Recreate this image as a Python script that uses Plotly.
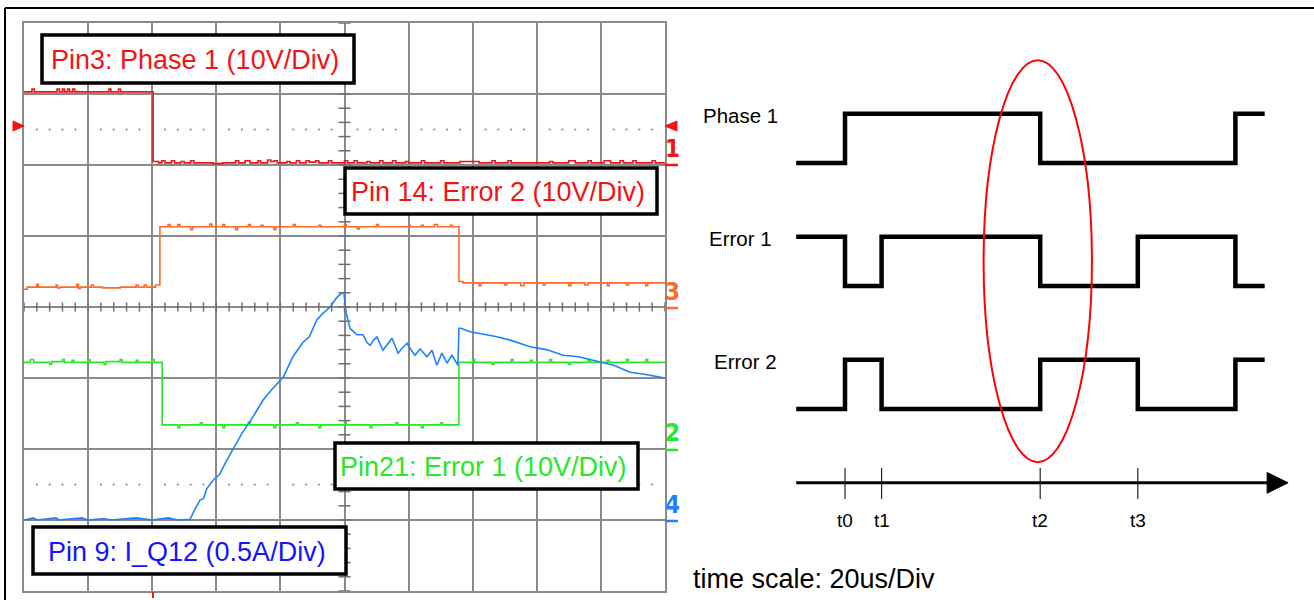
import plotly.graph_objects as go

W, H = 1314, 600

# ---------------- Oscilloscope data: time in us (20 us/div), amplitude in divisions (centre = 0)
ch1_t = [0, 2.5, 3.2, 10.3, 11.0, 12.0, 12.6, 13.6, 14.2, 15.2, 15.8, 26.5, 27.1, 29.5, 30.1,
         40.3, 42, 43, 44, 46, 47, 49, 50, 52, 53, 59, 62, 66, 67, 69, 70.5, 73, 73.8, 76, 77, 78,
         79, 82, 83, 85, 86, 88, 89, 91, 92, 95, 96, 100, 101, 103, 104, 107, 108, 111, 112, 115,
         116, 119, 120, 124, 125, 130, 131, 136, 142, 146, 147, 151, 152, 164, 165, 170, 172, 176,
         177, 181, 183, 186, 187, 190, 191, 196, 197, 200]
ch1_v = [3.03, 3.07, 3.03, 3.07, 3.03, 3.07, 3.03, 3.07, 3.03, 3.07, 3.03, 3.07, 3.03, 3.07, 3.03,
         2.05, 2.03, 2.06, 2.03, 2.06, 2.03, 2.05, 2.03, 2.06, 2.03, 2.02, 2.03, 2.06, 2.03, 2.06,
         2.03, 2.06, 2.03, 2.07, 2.05, 2.06, 2.03, 2.05, 2.03, 2.06, 2.03, 2.06, 2.04, 2.06, 2.03,
         2.06, 2.03, 2.06, 2.03, 2.06, 2.03, 2.05, 2.03, 2.06, 2.03, 2.06, 2.03, 2.05, 2.03, 2.06,
         2.03, 2.06, 2.03, 2.05, 2.03, 2.06, 2.03, 2.06, 2.03, 2.05, 2.03, 2.06, 2.03, 2.06, 2.03,
         2.06, 2.03, 2.06, 2.03, 2.06, 2.03, 2.06, 2.03, 2.03]

ch3_t = [0, 1, 4, 4.5, 10, 10.5, 11.2, 16.5, 17, 17.6, 21, 21.6, 24.5, 30, 35, 35.6, 37.5, 38.2,
         41, 42.4, 45, 45.6, 48, 48.6, 52, 52.6, 58, 58.6, 62, 62.6, 66, 66.6, 70, 70.6, 74,
         74.6, 78, 78.6, 84, 84.6, 92, 92.6, 100, 100.6, 104, 104.6, 110, 110.6, 120, 120.6,
         124, 124.6, 128, 129, 133, 133.6, 135.7, 137, 142, 142.6, 150, 150.6, 155, 156, 162,
         162.6, 170, 170.6, 175, 176, 182, 182.6, 188, 188.6, 194, 194.6, 200]
ch3_v = [0.25, 0.28, 0.32, 0.28, 0.31, 0.27, 0.28, 0.32, 0.26, 0.28, 0.31, 0.28, 0.27, 0.28, 0.31,
         0.28, 0.31, 0.28, 0.31, 1.13, 1.16, 1.13, 1.16, 1.13, 1.09, 1.13, 1.17, 1.13, 1.16, 1.13,
         1.09, 1.13, 1.16, 1.13, 1.15, 1.13, 1.09, 1.13, 1.16, 1.13, 1.15, 1.13, 1.16, 1.13, 1.10,
         1.13, 1.16, 1.13, 1.15, 1.13, 1.15, 1.13, 1.16, 1.13, 1.15, 1.13, 0.36, 0.34, 0.30, 0.34,
         0.31, 0.34, 0.30, 0.34, 0.31, 0.34, 0.30, 0.34, 0.31, 0.34, 0.30, 0.34, 0.31, 0.34, 0.30,
         0.34, 0.33]

ch2_t = [0, 2, 3, 8, 8.6, 12, 12.6, 15, 15.6, 20, 20.6, 25, 25.6, 30, 30.6, 35, 35.6, 40, 40.6,
         43.1, 48, 48.6, 55, 55.6, 62, 62.6, 70, 70.6, 78, 78.6, 85, 85.6, 92, 92.6, 100, 100.6,
         108, 108.6, 116, 116.6, 124, 124.6, 130, 130.6, 135.7, 140, 140.6, 146, 146.6, 152,
         152.6, 158, 158.6, 164, 164.6, 170, 170.6, 176, 176.6, 182, 182.6, 188, 188.6, 194,
         194.6, 200]
ch2_v = [-0.78, -0.74, -0.78, -0.81, -0.77, -0.74, -0.78, -0.75, -0.78, -0.74, -0.78, -0.81,
         -0.77, -0.74, -0.78, -0.75, -0.78, -0.74, -0.78, -1.66, -1.70, -1.66, -1.63, -1.66,
         -1.70, -1.66, -1.62, -1.66, -1.70, -1.66, -1.63, -1.66, -1.70, -1.66, -1.62, -1.66,
         -1.70, -1.66, -1.63, -1.66, -1.70, -1.66, -1.63, -1.66, -0.78, -0.74, -0.78, -0.81,
         -0.78, -0.74, -0.78, -0.75, -0.78, -0.74, -0.78, -0.81, -0.78, -0.74, -0.78, -0.75,
         -0.78, -0.74, -0.78, -0.74, -0.78, -0.78]

ch4_t = [0, 3, 4, 10, 11, 18, 20, 25, 27, 35, 40, 45, 48, 51.8, 53, 54.9, 56, 57, 59.0, 61, 63,
         65.2, 68, 71, 74.6, 77, 79.9, 81, 83.9, 87, 89, 91.4, 93, 95.5, 97.7, 99.2, 99.8,
         100.5, 101.7, 103.9, 105.8, 107, 108.0, 109, 110.1, 111, 112.0, 113.5, 114.8, 115.8,
         116.7, 118, 119.5, 121, 122.0, 123.6, 125.7, 127.3, 128.8, 130.4, 132.0, 133.5, 135.4,
         135.7, 136.3, 139.2, 147.6, 152, 157.9, 163, 168.2, 173, 178.8, 184, 189.1, 194, 200]
ch4_v = [-3.00, -2.97, -3.00, -2.97, -3.00, -2.97, -3.00, -2.98, -3.00, -2.97, -3.00, -2.97,
         -3.00, -2.99, -2.88, -2.72, -2.70, -2.56, -2.44, -2.36, -2.18, -2.01, -1.78, -1.58,
         -1.31, -1.18, -1.03, -0.98, -0.70, -0.50, -0.42, -0.18, -0.10, 0.00, 0.14, 0.20, 0.20,
         -0.08, -0.30, -0.39, -0.39, -0.50, -0.54, -0.47, -0.42, -0.50, -0.61, -0.52, -0.44,
         -0.55, -0.65, -0.58, -0.51, -0.62, -0.68, -0.59, -0.70, -0.61, -0.82, -0.65, -0.79,
         -0.68, -0.82, -0.30, -0.30, -0.35, -0.42, -0.47, -0.56, -0.60, -0.68, -0.70, -0.76,
         -0.82, -0.92, -0.95, -1.00]

# ---------------- Timing diagram data (arbitrary time units, levels 0/1)
edge_times = [0, 1.0, 1.75, 5.0, 7.0, 9.0, 9.6]
phase1 = [0, 1, 1, 0, 0, 1, 1]
error1 = [1, 0, 1, 0, 1, 0, 0]
error2 = [0, 1, 0, 1, 0, 1, 1]
signal_names = ["Phase 1", "Error 1", "Error 2"]
row_offsets = [0, -2.5, -5.0]
tick_times = [1.0, 1.75, 5.0, 7.0]
tick_labels = ["t0", "t1", "t2", "t3"]
time_axis_level = -6.5
time_axis_end = 10.08

FONT = "Liberation Sans, Arial, sans-serif"
RED, ORANGE, GREEN, BLUE = "#f01414", "#ff6a28", "#28e628", "#1e82ff"


def px(x):
    return x / W


def py(y):
    return 1 - y / H


fig = go.Figure()

# scope traces
for t, v, c in [(ch1_t, ch1_v, RED), (ch3_t, ch3_v, ORANGE), (ch2_t, ch2_v, GREEN)]:
    fig.add_trace(go.Scatter(x=t, y=v, mode="lines", line=dict(color=c, width=1.6, shape="hv"),
                             xaxis="x", yaxis="y", hoverinfo="skip", showlegend=False))
fig.add_trace(go.Scatter(x=ch4_t, y=ch4_v, mode="lines", line=dict(color=BLUE, width=1.6),
                         xaxis="x", yaxis="y", hoverinfo="skip", showlegend=False))

# graticule minor ticks along centre lines and dotted reference lines
tx, ty = [], []
for i in range(0, 51):
    t = i * 4
    tx += [t, t, None]
    ty += [-0.065, 0.065, None]
for i in range(0, 41):
    v = -4 + i * 0.2
    tx += [98.1, 101.9, None]
    ty += [v, v, None]
fig.add_trace(go.Scatter(x=tx, y=ty, mode="lines", line=dict(color="#707070", width=1.5),
                         xaxis="x", yaxis="y", hoverinfo="skip", showlegend=False))
dx, dy = [], []
for lvl in (2.5, -2.5):
    for i in range(1, 50):
        if i % 5:
            dx.append(i * 4)
            dy.append(lvl)
fig.add_trace(go.Scatter(x=dx, y=dy, mode="markers", marker=dict(color="#8a8a8a", size=2.2),
                         xaxis="x", yaxis="y", hoverinfo="skip", showlegend=False))

# timing diagram
for name, lev, off in zip(signal_names, [phase1, error1, error2], row_offsets):
    fig.add_trace(go.Scatter(x=edge_times, y=[l + off for l in lev], mode="lines",
                             line=dict(color="black", width=4.5, shape="hv"),
                             xaxis="x2", yaxis="y2", hoverinfo="skip", showlegend=False))
fig.add_trace(go.Scatter(x=[edge_times[0], time_axis_end - 0.4], y=[time_axis_level] * 2, mode="lines",
                         line=dict(color="black", width=3), xaxis="x2", yaxis="y2",
                         hoverinfo="skip", showlegend=False))
fig.add_trace(go.Scatter(x=[time_axis_end - 0.43, time_axis_end, time_axis_end - 0.43, time_axis_end - 0.43],
                         y=[time_axis_level + 0.21, time_axis_level, time_axis_level - 0.21, time_axis_level + 0.21],
                         mode="lines", fill="toself", fillcolor="black", line=dict(color="black", width=1),
                         xaxis="x2", yaxis="y2", hoverinfo="skip", showlegend=False))
kx, ky = [], []
for t in tick_times:
    kx += [t, t, None]
    ky += [time_axis_level + 0.3, time_axis_level - 0.33, None]
fig.add_trace(go.Scatter(x=kx, y=ky, mode="lines", line=dict(color="#222", width=1.2),
                         xaxis="x2", yaxis="y2", hoverinfo="skip", showlegend=False))

shapes = []
annotations = []

# outer frame
shapes.append(dict(type="line", xref="paper", yref="paper", x0=px(5), x1=px(1314), y0=py(8), y1=py(8),
                   line=dict(color="black", width=2)))
shapes.append(dict(type="line", xref="paper", yref="paper", x0=px(5), x1=px(5), y0=py(8), y1=py(600),
                   line=dict(color="black", width=2)))

# label boxes on scope
boxes = [
    ("Pin3: Phase 1 (10V/Div)", RED, 42, 35, 354, 83),
    ("Pin 14: Error 2 (10V/Div)", RED, 345, 168, 657, 214),
    ("Pin21: Error 1 (10V/Div)", GREEN, 335, 443, 638, 489),
    ("Pin 9: I_Q12 (0.5A/Div)", "#1414ff", 33, 527, 346, 574),
]
for text, col, x0, y0, x1, y1 in boxes:
    shapes.append(dict(type="rect", xref="paper", yref="paper", x0=px(x0), x1=px(x1), y0=py(y1), y1=py(y0),
                       line=dict(color="black", width=3.5), fillcolor="white", layer="above"))
    annotations.append(dict(text=text, xref="paper", yref="paper", x=px((x0 + x1) / 2 - 3), y=py((y0 + y1) / 2 + 1),
                            showarrow=False, xanchor="center", yanchor="middle",
                            font=dict(family=FONT, size=27, color=col)))

# channel markers on right edge of scope
for digit, col, yc, yu in [("1", RED, 149, 165), ("3", ORANGE, 292, 308), ("2", GREEN, 433, 450), ("4", BLUE, 505, 521)]:
    annotations.append(dict(text="<b>" + digit + "</b>", xref="paper", yref="paper", x=px(672), y=py(yc),
                            showarrow=False, xanchor="center", yanchor="middle",
                            font=dict(family="DejaVu Sans Condensed, " + FONT, size=24, color=col)))
    shapes.append(dict(type="line", xref="paper", yref="paper", x0=px(665), x1=px(678), y0=py(yu), y1=py(yu),
                       line=dict(color=col, width=2.5)))

# ch1 reference arrows
shapes.append(dict(type="path", xref="paper", yref="paper",
                   path=f"M {px(13)} {py(121)} L {px(24)} {py(126)} L {px(13)} {py(131)} Z",
                   fillcolor=RED, line=dict(color=RED, width=1)))
shapes.append(dict(type="path", xref="paper", yref="paper",
                   path=f"M {px(677)} {py(121)} L {px(665)} {py(126)} L {px(677)} {py(131)} Z",
                   fillcolor=RED, line=dict(color=RED, width=1)))
# trigger marker
shapes.append(dict(type="line", xref="paper", yref="paper", x0=px(153), x1=px(153), y0=py(592), y1=py(598),
                   line=dict(color=RED, width=2)))

# ellipse around t2
shapes.append(dict(type="circle", xref="x2", yref="y2", x0=4.95 - 1.11, x1=4.95 + 1.11, y0=-6.08, y1=2.09,
                   line=dict(color="#ff0000", width=2)))

# timing labels
for name, off, xc in zip(signal_names, row_offsets, [-1.15, -1.15, -1.03]):
    annotations.append(dict(text=name, xref="x2", yref="y2", x=xc, y=off + 0.96, showarrow=False,
                            xanchor="center", yanchor="middle", font=dict(family=FONT, size=20.5, color="black")))
for t, lab in zip(tick_times, tick_labels):
    annotations.append(dict(text=lab, xref="x2", yref="y2", x=t, y=time_axis_level - 0.77, showarrow=False,
                            xanchor="center", yanchor="middle", font=dict(family=FONT, size=19, color="black")))
annotations.append(dict(text="time scale: 20us/Div", xref="paper", yref="paper", x=px(691), y=py(579),
                        showarrow=False, xanchor="left", yanchor="middle",
                        font=dict(family=FONT, size=27, color="black")))

GRID = "#8a8a8a"
fig.update_layout(
    width=W, height=H, margin=dict(l=0, r=0, t=0, b=0),
    paper_bgcolor="white", plot_bgcolor="white", showlegend=False,
    xaxis=dict(domain=[px(24), px(665)], range=[0, 200], dtick=20, showgrid=True, gridcolor=GRID, gridwidth=2,
               showline=True, mirror=True, linecolor=GRID, linewidth=2, zeroline=False,
               showticklabels=False, ticks="", anchor="y", fixedrange=True),
    yaxis=dict(domain=[py(591), py(23)], range=[-4, 4], dtick=1, showgrid=True, gridcolor=GRID, gridwidth=2,
               showline=True, mirror=True, linecolor=GRID, linewidth=2, zeroline=False,
               showticklabels=False, ticks="", anchor="x", fixedrange=True),
    xaxis2=dict(domain=[px(680), 1], range=[(680 - 796.2) / 48.8, (1314 - 796.2) / 48.8], visible=False,
                anchor="y2"),
    yaxis2=dict(domain=[0, 1], range=[(163 - 600) / 49.2, 163 / 49.2], visible=False, anchor="x2"),
    shapes=shapes, annotations=annotations,
)

fig.write_html("out.html")
